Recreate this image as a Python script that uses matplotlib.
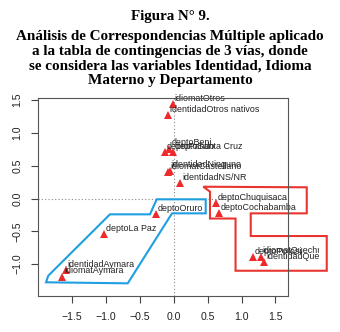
import matplotlib
matplotlib.use("Agg")
import matplotlib.pyplot as plt
from matplotlib.patches import Polygon
from matplotlib.transforms import Bbox, TransformedBbox

# Coordinates of the categories on the first two MCA dimensions
labels = [
    "idiomatOtros", "identidadOtros nativos",
    "deptoPando", "deptoBeni", "deptoSanta Cruz",
    "identidadNinguno", "idiomatCastellano", "identidadNS/NR",
    "deptoOruro", "deptoLa Paz", "identidadAymara", "idiomatAymara",
    "deptoChuquisaca", "deptoCochabamba",
    "deptoPotosi", "idiomatQuechua", "identidadQuechua",
]
dim1 = [-0.015, -0.08, -0.128, -0.065, -0.006, -0.062, -0.077, 0.093,
        -0.266, -1.028, -1.593, -1.647, 0.624, 0.668, 1.165, 1.283, 1.336]
dim2 = [1.44, 1.27, 0.709, 0.762, 0.704, 0.427, 0.404, 0.232,
        -0.241, -0.546, -1.09, -1.192, -0.073, -0.226, -0.896, -0.887, -0.973]

# Hand-drawn groupings
aymara_group = [(-1.883, -1.277), (-1.850, -1.177), (-0.940, -0.241), (-0.350, -0.241),
                (-0.251, -0.012), (0.472, -0.012), (0.472, -0.226), (-0.025, -0.226),
                (-0.678, -1.293)]
quechua_group = [(0.437, 0.180), (1.962, 0.171), (1.962, -0.226), (1.136, -0.226),
                 (1.136, -0.572), (2.257, -0.572), (2.257, -1.101), (0.912, -1.101),
                 (0.912, -0.305), (0.535, -0.305), (0.535, 0.104)]

xticks = [-1.5, -1.0, -0.5, 0.0, 0.5, 1.0, 1.5]
yticks = [-1.0, -0.5, 0.0, 0.5, 1.0, 1.5]

title = "Figura N° 9."
subtitle = ["Análisis de Correspondencias Múltiple aplicado",
            "a la tabla de contingencias de 3 vías, donde",
            "se considera las variables Identidad, Idioma",
            "Materno y Departamento"]

W, H, DPI = 340, 332, 100
fig = plt.figure(figsize=(W / DPI, H / DPI), dpi=DPI)
fig.patch.set_facecolor("white")

serif = ["Liberation Serif", "DejaVu Serif"]
fig.text(0.5, 1 - 20 / H, title, ha="center", va="baseline",
         fontfamily=serif, fontweight="bold", fontsize=10.8)
for i, line in enumerate(subtitle):
    fig.text(0.5, 1 - (40 + 14.7 * i) / H, line, ha="center", va="baseline",
             fontfamily=serif, fontweight="bold", fontsize=10.9)

ax = fig.add_axes([38.3 / W, 1 - 296 / H, (288.3 - 38.3) / W, (296 - 97.7) / H])
ax.set_xlim(-1.997, 1.690)
ax.set_ylim(-1.486, 1.537)

sans = ["Liberation Sans", "DejaVu Sans"]
ax.axhline(0, color="#8a8a8a", lw=0.8, ls=(0, (1, 2)), zorder=1)
ax.axvline(0, color="#8a8a8a", lw=0.8, ls=(0, (1, 2)), zorder=1)

ax.plot(dim1, dim2, ls="none", marker="^", ms=5.4, color="#ee2a2a",
        markeredgewidth=0, zorder=3)

clip = TransformedBbox(Bbox([[0, 0], [318.8 / W, 1]]), fig.transFigure)
for x, y, lab in zip(dim1, dim2, labels):
    t = ax.annotate(lab, (x, y), xytext=(1.5, 2.5), textcoords="offset points",
                    ha="left", va="baseline", fontsize=6.4, fontfamily=sans,
                    color="#222222", annotation_clip=False, zorder=4)
    t.set_clip_box(clip)
    t.set_clip_on(True)

ax.add_patch(Polygon(aymara_group, closed=True, fill=False, edgecolor="#1e9fe0",
                     lw=1.5, clip_on=False, zorder=5))
ax.add_patch(Polygon(quechua_group, closed=True, fill=False, edgecolor="#e8352f",
                     lw=1.5, clip_on=False, zorder=5))

ax.set_xticks(xticks)
ax.set_yticks(yticks)
ax.set_xticklabels([f"{v:.1f}".replace("-", "\u2212") for v in xticks])
ax.set_yticklabels([f"{v:.1f}".replace("-", "\u2212") for v in yticks],
                   rotation=90, va="center")
ax.tick_params(direction="out", length=5, width=0.8, color="#444444",
               labelsize=7.6, labelcolor="#222222", pad=6.5)
for lab in ax.get_xticklabels() + ax.get_yticklabels():
    lab.set_fontfamily(sans)
for s in ax.spines.values():
    s.set_color("#555555")
    s.set_linewidth(0.8)
    s.set_zorder(6)

fig.savefig("out.png", dpi=DPI, facecolor="white")
